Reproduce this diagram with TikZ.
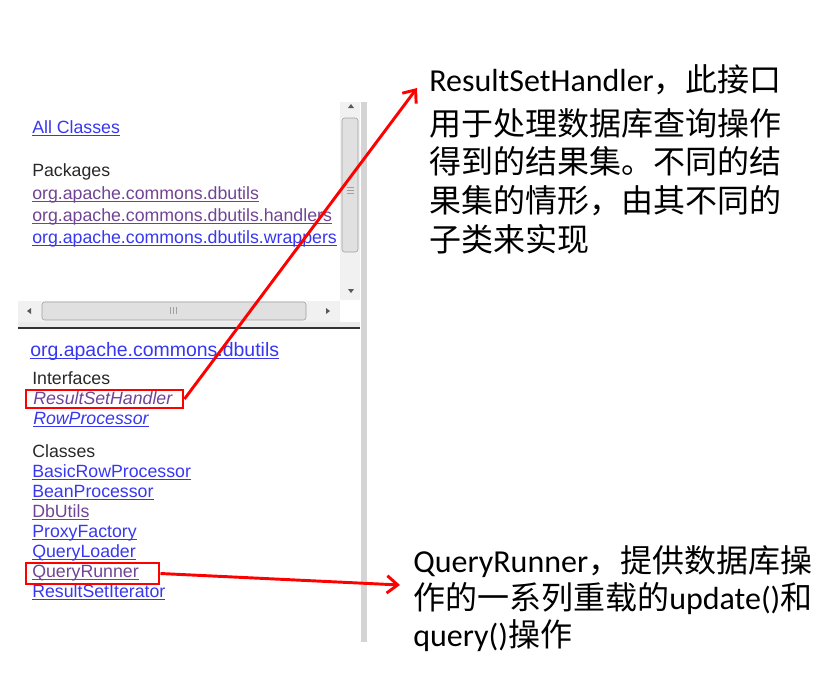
\documentclass[tikz,border=0pt]{standalone}
\usepackage{fontspec}
\setmainfont{Carlito}
\newfontfamily\cjk{Noto Sans CJK SC}
\newfontfamily\webfont{Liberation Sans}
\usetikzlibrary{arrows.meta,fit}

\definecolor{linkBlue}{RGB}{55,55,240}
\definecolor{linkVisited}{RGB}{112,68,148}
\definecolor{paneText}{RGB}{40,40,40}
\definecolor{barGrey}{RGB}{212,212,212}
\definecolor{trackGrey}{RGB}{241,241,241}
\definecolor{thumbGrey}{RGB}{224,224,224}
\definecolor{edgeGrey}{RGB}{160,160,160}

\newcommand\lnk[1]{\underline{\smash{#1}}}

\begin{document}
\begin{tikzpicture}[x=0.75pt, y=-0.75pt,
    entry/.style={anchor=base west, inner sep=0pt, font=\webfont\fontsize{13.3pt}{15pt}\selectfont},
    heading/.style={entry, text=paneText},
    link/.style={entry, text=linkBlue},
    visited/.style={entry, text=linkVisited},
    hint/.style={draw=red, line width=2.2pt, inner sep=0pt},
    pointer/.style={draw=red, line width=2.2pt, -{Straight Barb[length=8pt,width=13pt]}},
    note/.style={anchor=base west, inner sep=0pt, align=left, font=\fontsize{24pt}{29pt}\selectfont},
    thumb/.style={draw=edgeGrey, fill=thumbGrey, rounded corners=2pt},
    arrowMark/.style={fill=black!65}]
  \useasboundingbox (0,0) rectangle (840,687);

  % PackagePane:
  %   upper frame with its two scrollbars
  \fill[trackGrey] (340,102) rectangle (360,300);
  \draw[thumb] (342,118) rectangle (358,252);
  \draw[edgeGrey] (347,187) -- (354,187) (347,190) -- (354,190) (347,193) -- (354,193);
  \fill[arrowMark] (348,108) -- (354,108) -- (351,104) -- cycle;
  \fill[arrowMark] (348,289) -- (354,289) -- (351,293) -- cycle;
  \fill[trackGrey] (18,301) rectangle (340,322);
  \draw[thumb] (42,302) rectangle (306,320);
  \draw[edgeGrey] (170,307) -- (170,314) (173,307) -- (173,314) (176,307) -- (176,314);
  \fill[arrowMark] (31,308) -- (31,314) -- (27,311) -- cycle;
  \fill[arrowMark] (326,308) -- (326,314) -- (330,311) -- cycle;
  \fill[black!8] (18,322) rectangle (360,327);
  \draw[black!80, line width=1pt] (18,328) -- (360,328);
  % Divider:
  %   grey bar between the frames and the notes
  \fill[barGrey] (361,102) rectangle (367,642);

  \node[link] (allClasses) at (32,133) {\lnk{All Classes}};
  \node[heading] (packages) at (32,176) {Packages};
  \node[visited] (pkgDbutils) at (32,199) {\lnk{org.apache.commons.dbutils}};
  \node[visited] (pkgHandlers) at (32,221) {\lnk{org.apache.commons.dbutils.handlers}};
  \node[link] (pkgWrappers) at (32,243) {\lnk{org.apache.commons.dbutils.wrappers}};

  % ClassPane:
  %   lower frame, interfaces and classes of the package
  \node[link, font=\webfont\fontsize{14.6pt}{17pt}\selectfont] (pkgTitle) at (30,356) {\lnk{org.apache.commons.dbutils}};
  \node[heading] (interfaces) at (32,384) {Interfaces};
    \node[visited, font=\webfont\itshape\fontsize{13.3pt}{15pt}\selectfont] (resultSetHandler) at (33,404) {ResultSetHandler};
    \node[link, font=\webfont\itshape\fontsize{13.3pt}{15pt}\selectfont] (rowProcessor) at (33,424) {\lnk{RowProcessor}};
  \node[heading] (classes) at (32,457) {Classes};
    \node[link] (basicRowProcessor) at (32,477) {\lnk{BasicRowProcessor}};
    \node[link] (beanProcessor) at (32,497) {\lnk{BeanProcessor}};
    \node[visited] (dbUtils) at (32,517) {\lnk{DbUtils}};
    \node[link] (proxyFactory) at (32,537) {\lnk{ProxyFactory}};
    \node[link] (queryLoader) at (32,557) {\lnk{QueryLoader}};
    \node[visited] (queryRunner) at (32,577) {\lnk{QueryRunner}};
    \node[link] (resultSetIterator) at (32,597) {\lnk{ResultSetIterator}};

  % Notes:
  %   what the two marked types are for (anchored on their last line)
  \node[note] (noteHandler) at (429,251) {ResultSetHandler{\cjk ，此接口}\\[4pt]
    {\cjk 用于处理数据库查询操作}\\
    {\cjk 得到的结果集。不同的结}\\
    {\cjk 果集的情形，由其不同的}\\
    {\cjk 子类来实现}};
  \node[note, font=\fontsize{24pt}{27.5pt}\selectfont] (noteRunner) at (413,646) {QueryRunner{\cjk ，提供数据库操}\\
    {\cjk 作的一系列重载的}update(){\cjk 和}\\
    query(){\cjk 操作}};

  \node[hint, fit={(26,390) (183,408)}] (handlerBox) {};
  \node[hint, fit={(26,563) (159,584)}] (runnerBox) {};
  \coordinate (handlerTip) at (417,88);
  \coordinate (runnerTip) at (400,585);

  \draw[pointer] (handlerBox.east) -- (handlerTip);
  \draw[pointer] (runnerBox.east) -- (runnerTip);
\end{tikzpicture}
\end{document}
